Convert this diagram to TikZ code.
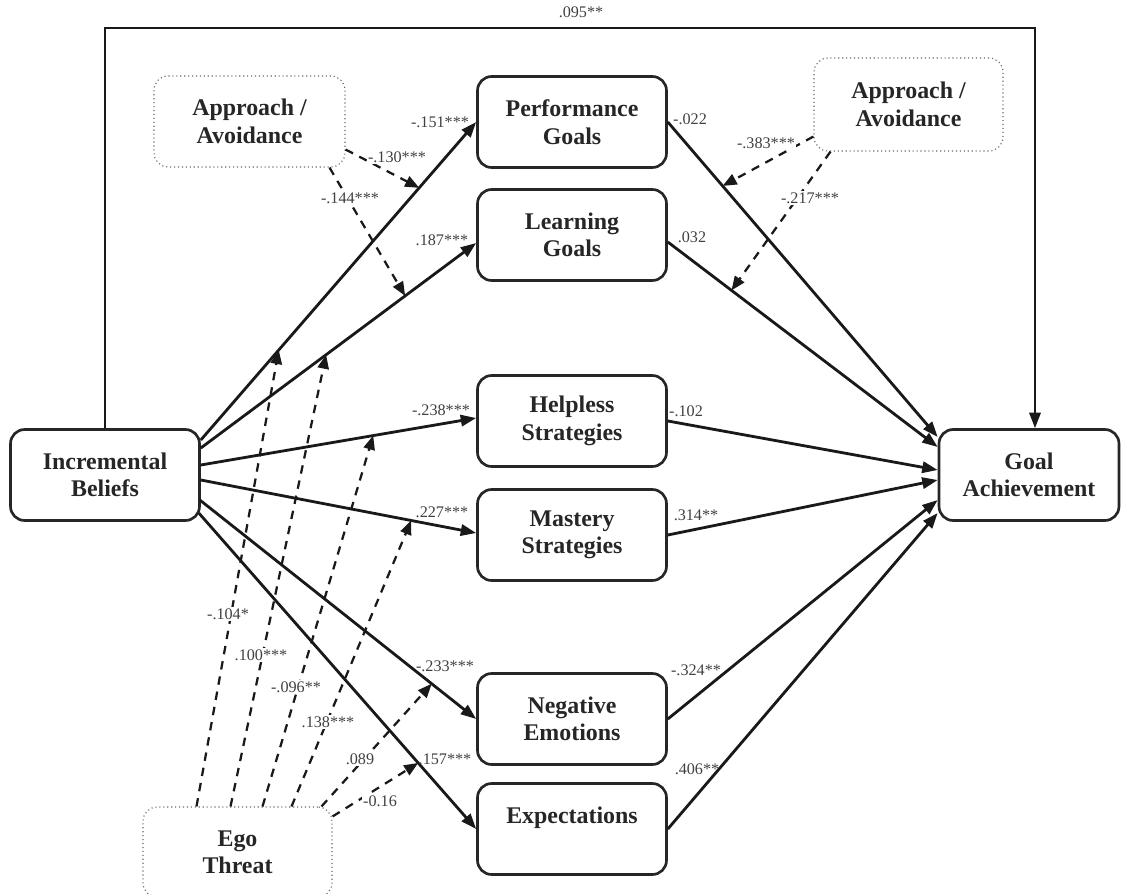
\documentclass[tikz,border=0pt]{standalone}
\usepackage{fontspec}
\setmainfont{Liberation Serif}
\usetikzlibrary{arrows.meta,calc}
\begin{document}
\begin{tikzpicture}[x=0.7113pt,y=-0.7113pt,
  box/.style={draw=black!85, line width=1.9pt, rounded corners=10pt,
    minimum width=134.4pt, minimum height=64.7pt, align=center,
    font=\fontsize{17}{19.5}\selectfont\bfseries, text=black!85, inner sep=0pt},
  modbox/.style={box, draw=black!60, line width=0.8pt, dotted},
  mainarrow/.style={line width=2pt, draw=black!90, -{Triangle[length=11pt,width=8pt]}},
  modarrow/.style={line width=1.6pt, draw=black!90, dash pattern=on 6pt off 5pt, -{Triangle[length=10pt,width=8pt]}},
  lab/.style={font=\fontsize{11.5}{13}\selectfont, text=black!75, inner sep=1pt},
  labw/.style={lab, fill=white}]
\useasboundingbox (0,0) rectangle (1122,894);

% nodes
\node[box] (ib) at (105,475) {Incremental\\Beliefs};
\node[box] (pg) at (572,122) {Performance\\Goals};
\node[box] (lg) at (572,235) {Learning\\Goals};
\node[box] (hs) at (572,421) {Helpless\\Strategies};
\node[box] (ms) at (572,535) {Mastery\\Strategies};
\node[box] (ne) at (572,719) {Negative\\Emotions};
\node[box] (ex) at (572,829) {Expectations\\~};
\node[box, minimum width=128pt] (ga) at (1029,475) {Goal\\Achievement};
\node[modbox, minimum width=135.8pt] (aal) at (249.5,121.5) {Approach /\\Avoidance};
\node[modbox, minimum height=66.2pt] (aar) at (908.5,104.5) {Approach /\\Avoidance};
\node[modbox, minimum height=64pt] (et) at (237.5,852) {Ego\\Threat};

% main paths from incremental beliefs
\draw[mainarrow] ($(ib.east)+(0,-35)$) -- (pg.west) coordinate[pos=0.283] (p1) coordinate[pos=0.793] (p2);
\draw[mainarrow] ($(ib.east)+(0,-27)$) -- ($(lg.west)+(0,8)$) coordinate[pos=0.455] (l1) coordinate[pos=0.742] (l2);
\draw[mainarrow] ($(ib.east)+(0,-10)$) -- ($(hs.west)+(0,-3)$) coordinate[pos=0.626] (h1);
\draw[mainarrow] ($(ib.east)+(0,5)$) -- ($(ms.west)+(0,-2)$) coordinate[pos=0.764] (m1);
\draw[mainarrow] ($(ib.east)+(-1,25)$) -- (ne.west) coordinate[pos=0.839] (n1);
\draw[mainarrow] ($(ib.east)+(-2,38)$) -- (ex.west) coordinate[pos=0.791] (e1);

% paths to goal achievement
\draw[mainarrow] (pg.east) -- ($(ga.west)+(0,-38)$) coordinate[pos=0.203] (q1);
\draw[mainarrow] ($(lg.east)+(0,7)$) -- ($(ga.west)+(0,-28)$) coordinate[pos=0.236] (q2);
\draw[mainarrow] (hs.east) -- ($(ga.west)+(0,-5)$);
\draw[mainarrow] (ms.east) -- ($(ga.west)+(0,5)$);
\draw[mainarrow] (ne.east) -- ($(ga.west)+(0,25)$);
\draw[mainarrow] (ex.east) -- ($(ga.west)+(0,38)$);

% direct path
\coordinate (tr) at (1035,28);
\draw[mainarrow, line width=1.7pt] (ib.north) |- (tr) -- (tr |- ga.north);

% moderation paths
\draw[modarrow] ($(aal.east)+(0,28)$) -- (p2);
\draw[modarrow] ($(aal.south)+(80,0)$) -- (l2);
\draw[modarrow] ($(aar.west)+(0,32)$) -- (q1);
\draw[modarrow] ($(aar.south)+(-78,0)$) -- (q2);
\draw[modarrow] ($(et.north)+(-41,0)$) -- (p1);
\draw[modarrow] ($(et.north)+(-7,0)$) -- (l1);
\draw[modarrow] ($(et.north)+(25,0)$) -- (h1);
\draw[modarrow] ($(et.north)+(54,0)$) -- (m1);
\draw[modarrow] ($(et.north)+(84,0)$) -- (n1);
\draw[modarrow] ($(et.north east)+(0,10)$) -- (e1);

% labels
\node[lab] (t0) at (581,12) {.095**};
\node[lab] (t1) at (440,122) {-.151***};
\node[lab] (t2) at (442,240) {.187***};
\node[lab] (t3) at (441,410) {-.238***};
\node[lab] (t4) at (442,512) {.227***};
\node[lab] (t5) at (445,666) {-.233***};
\node[lab] (t6) at (445,759) {.157***};
\node[lab] (r1) at (690,119) {-.022};
\node[lab] (r2) at (692,237) {.032};
\node[lab] (r3) at (686,411) {-.102};
\node[lab] (r4) at (696,515) {.314**};
\node[lab] (r5) at (696,670) {-.324**};
\node[lab] (r6) at (697,769) {.406**};
\node[labw] (a1) at (397,157) {-.130***};
\node[labw] (a2) at (350,198) {-.144***};
\node[labw] (a3) at (766,143) {-.383***};
\node[labw] (a4) at (810,198) {-.217***};
\node[labw] (g1) at (228,614) {-.104*};
\node[labw] (g2) at (261,655) {.100***};
\node[labw] (g3) at (296,687) {-.096**};
\node[labw] (g4) at (328,722) {.138***};
\node[labw] (g5) at (360,759) {.089};
\node[labw] (g6) at (380,801) {-0.16};
\end{tikzpicture}
\end{document}
